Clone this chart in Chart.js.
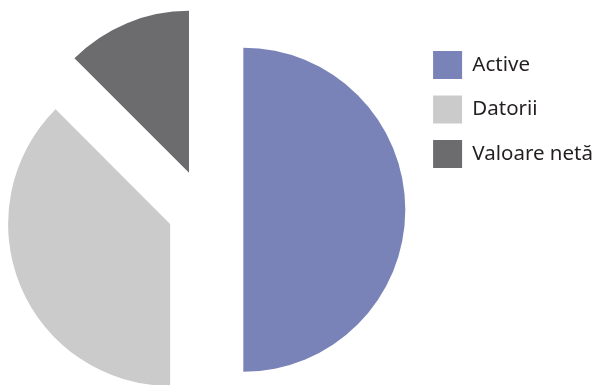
<!DOCTYPE html>
<html>
<head>
<meta charset="utf-8">
<script src="https://cdn.jsdelivr.net/npm/chart.js@4/dist/chart.umd.min.js"></script>
<style>
  html, body { margin: 0; padding: 0; background: #fff; overflow: hidden; }
  /* canvas is a bit wider than the page and shifted left, so the pie sits where the reference has it */
  #wrap { width: 606px; height: 385px; margin-left: -8px; position: relative; }
</style>
</head>
<body>
<div id="wrap"><canvas id="myChart"></canvas></div>
<script>
// chart data
const labels = ['Active', 'Datorii', 'Valoare netă'];
const values = [50, 37.5, 12.5];
const colors = ['#7a83b8', '#cbcbcb', '#6c6c6e'];
// how far each slice is pulled out from the centre (px)
const explode = [39, 37, 40];

// pull slices outwards along their middle angle, keeping the radius unchanged
const explodePlugin = {
  id: 'explode',
  afterDatasetsUpdate(chart) {
    chart.getDatasetMeta(0).data.forEach((arc, i) => {
      const mid = (arc.startAngle + arc.endAngle) / 2;
      arc.x += Math.cos(mid) * explode[i];
      arc.y += Math.sin(mid) * explode[i];
    });
  }
};

const ctx = document.getElementById('myChart').getContext('2d');
new Chart(ctx, {
  type: 'pie',
  data: {
    labels: labels,
    datasets: [{
      data: values,
      backgroundColor: colors,
      borderWidth: 0,
      radius: 162
    }]
  },
  options: {
    responsive: true,
    maintainAspectRatio: false,
    animation: false,
    layout: { padding: { left: 0, right: -5, top: 34.5, bottom: 0 } },
    plugins: {
      tooltip: { enabled: false },
      legend: {
        position: 'right',
        align: 'start',
        labels: {
          boxWidth: 29,
          boxHeight: 28,
          padding: 16.5,
          color: '#231f20',
          font: { family: '"Noto Sans", sans-serif', size: 20.5 }
        }
      }
    }
  },
  plugins: [explodePlugin]
});
</script>
</body>
</html>
